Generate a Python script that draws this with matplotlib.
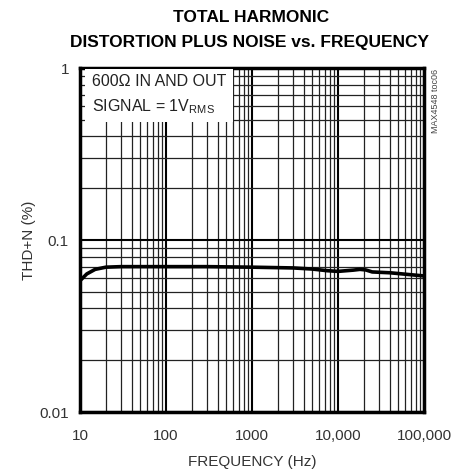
import numpy as np
import matplotlib
matplotlib.use('Agg')
import matplotlib.pyplot as plt
from matplotlib.ticker import LogLocator, NullFormatter, FixedLocator, FixedFormatter

# Font setup
plt.rcParams['font.family'] = ['Liberation Sans', 'DejaVu Sans']
plt.rcParams['mathtext.fontset'] = 'custom'
plt.rcParams['mathtext.rm'] = 'Liberation Sans'
plt.rcParams['mathtext.it'] = 'Liberation Sans'

# Data
freq_hz = [10, 12, 15, 20, 30, 50, 100, 300, 1000, 3000, 5000, 7500,
           10000, 15000, 18000, 21000, 25000, 40000, 100000]
thd_pct = [0.058, 0.0635, 0.0675, 0.0695, 0.0700, 0.0700, 0.0700, 0.0700,
           0.0695, 0.0688, 0.0678, 0.0663, 0.0657, 0.0668, 0.0675, 0.0670,
           0.0652, 0.0645, 0.0618]

x_ticks = [10, 100, 1000, 10000, 100000]
x_labels = ['10', '100', '1000', '10,000', '100,000']
y_ticks = [0.01, 0.1, 1]
y_labels = ['0.01', '0.1', '1']

fig = plt.figure(figsize=(4.66, 4.76), dpi=100)
ax = fig.add_axes([80 / 466, 1 - 412 / 476, 344 / 466, 344 / 476])

ax.set_xscale('log')
ax.set_yscale('log')
ax.set_xlim(10, 100000)
ax.set_ylim(0.01, 1)

# grid
ax.xaxis.set_minor_locator(LogLocator(base=10, subs=np.arange(2, 10)))
ax.yaxis.set_minor_locator(LogLocator(base=10, subs=np.arange(2, 10)))
ax.xaxis.set_minor_formatter(NullFormatter())
ax.yaxis.set_minor_formatter(NullFormatter())
ax.grid(True, which='major', color='black', linewidth=1.5)
ax.grid(True, which='minor', color='#222222', linewidth=0.9)
ax.set_axisbelow(True)

ax.xaxis.set_major_locator(FixedLocator(x_ticks))
ax.xaxis.set_major_formatter(FixedFormatter(x_labels))
ax.yaxis.set_major_locator(FixedLocator(y_ticks))
ax.yaxis.set_major_formatter(FixedFormatter(y_labels))
ax.tick_params(which='both', length=0, labelsize=11, colors='#333333', pad=8)
ax.tick_params(axis='x', pad=12)

for sp in ax.spines.values():
    sp.set_linewidth(2.5)
    sp.set_color('black')

ax.plot(freq_hz, thd_pct, color='black', linewidth=2.6, solid_capstyle='round', zorder=3)

ax.set_xlabel('FREQUENCY (Hz)', fontsize=11, color='#333333', labelpad=9)
ax.set_ylabel('THD+N (%)', fontsize=11, color='#333333', labelpad=2)

fig.text(251 / 466, 1 - 17 / 476, 'TOTAL HARMONIC', ha='center', va='center',
         fontsize=12.5, fontweight='bold')
fig.text(249 / 466, 1 - 42 / 476, 'DISTORTION PLUS NOISE vs. FREQUENCY', ha='center',
         va='center', fontsize=12.5, fontweight='bold')

# annotation box
ax.text(0.035, 0.982, '600\u03a9 IN AND OUT\nSIGNAL = 1V$_{\\mathregular{RMS}}$',
        transform=ax.transAxes, ha='left', va='top', fontsize=11.5, color='#222222',
        linespacing=1.55,
        bbox=dict(facecolor='white', edgecolor='none', pad=5), zorder=4)

fig.text(435 / 466, 1 - 69 / 476, 'MAX4548 toc06', rotation=90, ha='center', va='top',
         fontsize=6.5, color='#444444')

fig.savefig('out.png', dpi=100)
